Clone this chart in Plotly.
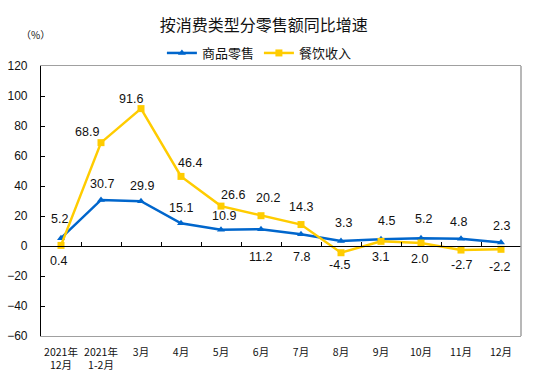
import plotly.graph_objects as go

categories = ["2021年<br>12月", "2021年<br>1-2月", "3月", "4月", "5月", "6月",
              "7月", "8月", "9月", "10月", "11月", "12月"]
retail = [5.2, 30.7, 29.9, 15.1, 10.9, 11.2, 7.8, 3.3, 4.5, 5.2, 4.8, 2.3]
catering = [0.4, 68.9, 91.6, 46.4, 26.6, 20.2, 14.3, -4.5, 3.1, 2.0, -2.7, -2.2]
retail_name = "商品零售"
catering_name = "餐饮收入"
y_ticks = [-60, -40, -20, 0, 20, 40, 60, 80, 100, 120]
title_text = "按消费类型分零售额同比增速"

# label offsets (dx, dy) in pixels, dy positive = up
retail_off = [(-2, 19), (1, 16), (1, 15), (0, 15), (3, 14), (-1, -28), (0, -23),
              (2, 18), (5, 18), (2, 19), (-3, 17), (0, 17)]
catering_off = [(-3, -16), (-14, 11), (-10, 10), (9, 13), (12, 11), (7, 18), (0, 18),
                (-1, -12), (-1, -16), (-2, -16), (1, -15), (-1, -18)]

BLUE = "#0066CC"
YELLOW = "#FFCC00"
x_idx = list(range(len(categories)))

fig = go.Figure()
fig.add_trace(go.Scatter(x=x_idx, y=retail, name=retail_name, mode="lines+markers",
                         line=dict(color=BLUE, width=2.5),
                         marker=dict(symbol="triangle-up", size=7, color=BLUE)))
fig.add_trace(go.Scatter(x=x_idx, y=catering, name=catering_name, mode="lines+markers",
                         line=dict(color=YELLOW, width=2.5),
                         marker=dict(symbol="square", size=7, color=YELLOW)))
# dummy trace for zero-line axis
fig.add_trace(go.Scatter(x=[x_idx[0]], y=[0], xaxis="x2", mode="markers",
                         marker=dict(opacity=0), showlegend=False, hoverinfo="skip"))

lab_font = dict(family="Liberation Sans, Arial", size=12.5, color="#111111")
for i, v in enumerate(retail):
    dx, dy = retail_off[i]
    fig.add_annotation(x=i, y=v, text=f"{v:.1f}", showarrow=False, xshift=dx, yshift=dy,
                       font=lab_font)
for i, v in enumerate(catering):
    dx, dy = catering_off[i]
    fig.add_annotation(x=i, y=v, text=f"{v:.1f}", showarrow=False, xshift=dx, yshift=dy,
                       font=lab_font)

fig.add_annotation(xref="paper", yref="paper", x=-0.012, y=1.115, text="（%）",
                   showarrow=False, xanchor="center", yanchor="middle",
                   font=dict(family="Noto Sans CJK SC", size=10, color="#111111"))

ymin, ymax = y_ticks[0], y_ticks[-1]
fig.update_layout(
    width=536, height=381,
    margin=dict(l=41, r=15, t=66, b=45, autoexpand=False),
    paper_bgcolor="white", plot_bgcolor="white",
    title=dict(text=title_text, x=0.492, xanchor="center", y=1 - 25 / 381, yanchor="middle",
               font=dict(family="Noto Sans CJK SC", size=16, color="#111111")),
    legend=dict(orientation="h", x=0.455, xanchor="center", yref="container",
                y=1 - 53 / 381, yanchor="middle",
                font=dict(family="Noto Sans CJK SC", size=13, color="#111111"),
                bgcolor="rgba(0,0,0,0)", itemwidth=30, tracegroupgap=0),
    showlegend=True,
    xaxis=dict(range=[-0.5, len(categories) - 0.5], tickmode="array", tickvals=x_idx,
               ticktext=categories, showgrid=False, zeroline=False,
               showline=True, linecolor="#A0A0A0", linewidth=1, mirror=True,
               ticks="", ticklabelstandoff=6,
               tickfont=dict(family="Noto Sans CJK SC", size=10.5, color="#111111")),
    xaxis2=dict(range=[-0.5, len(categories) - 0.5], overlaying="x", anchor="free",
                position=(0 - ymin) / (ymax - ymin), side="bottom",
                showline=True, linecolor="black", linewidth=1.2,
                tickmode="array", tickvals=[i + 0.5 for i in x_idx[:-1]],
                ticks="inside", ticklen=4, tickcolor="black", tickwidth=1,
                showticklabels=False, showgrid=False, zeroline=False),
    yaxis=dict(range=[ymin, ymax], tickmode="array", tickvals=y_ticks,
               showgrid=False, zeroline=False, showline=True, linecolor="black",
               linewidth=1.2, ticks="inside", ticklen=4, tickcolor="black",
               ticklabelstandoff=10,
               tickfont=dict(family="Liberation Sans, Arial", size=12, color="#111111")),
)
fig.add_shape(type="line", xref="paper", yref="paper", x0=1, x1=1, y0=0, y1=1,
              line=dict(color="#A0A0A0", width=1.5))

fig.write_html("out.html", config={"displayModeBar": False},
               post_script="document.body.style.margin='0px';")
